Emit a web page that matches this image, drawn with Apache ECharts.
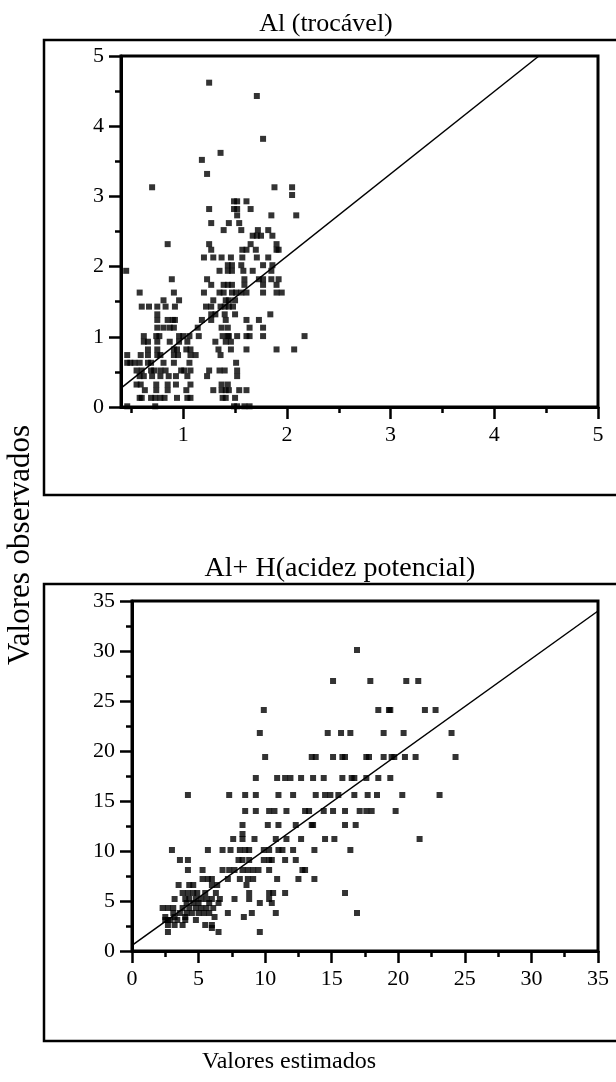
<!DOCTYPE html>
<html>
<head>
<meta charset="utf-8">
<script src="https://cdn.jsdelivr.net/npm/echarts@6/dist/echarts.min.js"></script>
<style>
html,body{margin:0;padding:0;background:#fff;}
#chart{width:616px;height:1082px;}
</style>
</head>
<body>
<div id="chart"></div>
<script>
// ---------- Panel 1: Al (trocável) ----------
const alTitle = 'Al (trocável)';
const alXTicks = [1, 2, 3, 4, 5];
const alXMinor = [0.5, 1.5, 2.5, 3.5, 4.5];
const alLevels = [4.62, 4.43, 3.82, 3.62, 3.52, 3.32, 3.13, 3.02, 2.93, 2.82, 2.73, 2.62, 2.52, 2.44, 2.32, 2.24, 2.13, 2.02, 1.94, 1.82, 1.74, 1.63, 1.52, 1.43, 1.32, 1.24, 1.13, 1.01, 0.93, 0.82, 0.74, 0.63, 0.52, 0.44, 0.32, 0.24, 0.13, 0.01];
const alRows = [
  [1.25],
  [1.71],
  [1.77],
  [1.36],
  [1.18],
  [1.23],
  [0.70, 1.88, 2.05],
  [2.05],
  [1.49, 1.52, 1.61],
  [1.25, 1.49, 1.52, 1.65],
  [1.52, 1.85, 2.09],
  [1.27, 1.44, 1.54],
  [1.39, 1.56, 1.72, 1.82],
  [1.67, 1.71, 1.75, 1.86],
  [0.85, 1.25, 1.65, 1.90],
  [1.27, 1.57, 1.61, 1.70, 1.90, 1.92],
  [1.20, 1.29, 1.37, 1.46, 1.57, 1.71, 1.82],
  [1.43, 1.47, 1.56, 1.77, 1.86],
  [0.45, 1.35, 1.43, 1.47, 1.58, 1.67, 1.85],
  [0.89, 1.23, 1.59, 1.73, 1.77, 1.85, 1.92],
  [1.27, 1.39, 1.43, 1.47, 1.59, 1.77, 1.90],
  [0.58, 0.91, 1.20, 1.35, 1.39, 1.47, 1.51, 1.56, 1.61, 1.77, 1.90, 1.95],
  [0.81, 0.96, 1.29, 1.41, 1.44, 1.50],
  [0.60, 0.67, 0.75, 0.83, 0.92, 1.22, 1.27, 1.36, 1.40, 1.44, 1.48],
  [0.75, 1.27, 1.31, 1.40, 1.50, 1.84],
  [0.75, 0.85, 0.90, 0.92, 1.18, 1.27, 1.41, 1.61, 1.73],
  [0.75, 0.81, 0.87, 0.91, 1.14, 1.37, 1.43, 1.64, 1.77],
  [0.62, 0.74, 0.77, 0.96, 1.00, 1.06, 1.15, 1.38, 1.43, 1.44, 1.52, 1.61, 1.64, 1.77, 2.17],
  [0.62, 0.66, 0.75, 0.87, 0.96, 1.04, 1.31, 1.41, 1.46],
  [0.66, 0.75, 0.91, 0.94, 1.03, 1.07, 1.34, 1.46, 1.61, 1.90, 2.07],
  [0.46, 0.59, 0.66, 0.75, 0.78, 0.91, 0.95, 1.07, 1.12, 1.36],
  [0.46, 0.49, 0.53, 0.58, 0.66, 0.69, 0.81, 0.91, 1.06, 1.51],
  [0.55, 0.60, 0.69, 0.72, 0.78, 0.83, 0.98, 1.01, 1.07, 1.25, 1.35, 1.40, 1.52],
  [0.58, 0.62, 0.70, 0.78, 0.86, 0.93, 1.04, 1.23, 1.52],
  [0.55, 0.59, 0.74, 0.85, 0.93, 1.07, 1.37, 1.43],
  [0.63, 0.74, 0.85, 1.03, 1.29, 1.37, 1.41, 1.44, 1.54, 1.61],
  [0.58, 0.60, 0.69, 0.73, 0.78, 0.82, 0.94, 1.04, 1.07, 1.38, 1.41, 1.50],
  [0.46, 0.73, 1.49, 1.52, 1.59, 1.64]
];
const alFitX = [0.4, 4.43];
const alFitY = [0.27, 5.0];

// ---------- Panel 2: Al+ H (acidez potencial) ----------
const ahTitle = 'Al+ H(acidez potencial)';
const ahLevels = [30.1, 27.0, 24.1, 21.8, 19.4, 17.3, 15.6, 14.0, 12.6, 11.7, 11.2, 10.1, 9.1, 8.1, 7.2, 6.6, 5.8, 5.2, 4.8, 4.3, 3.8, 3.4, 3.1, 2.6, 2.3, 1.9];
const ahRows = [
  [16.9],
  [15.1, 17.9, 20.6, 21.5],
  [9.9, 18.5, 19.3, 19.4, 22.0, 22.8],
  [9.6, 14.7, 15.7, 16.4, 18.9, 20.4, 24.0],
  [10.0, 13.5, 13.8, 15.1, 15.8, 16.0, 17.6, 17.8, 18.9, 19.5, 19.7, 20.5, 21.3, 24.3],
  [9.3, 10.9, 11.5, 11.9, 12.7, 13.6, 14.4, 15.8, 16.5, 16.7, 17.6, 18.5, 19.4],
  [4.2, 7.3, 8.5, 9.3, 11.0, 12.1, 13.8, 14.5, 14.9, 15.5, 16.7, 17.7, 18.4, 20.3, 23.1],
  [8.5, 9.3, 10.3, 10.7, 11.6, 13.0, 13.3, 14.4, 15.1, 16.0, 17.1, 17.6, 18.0, 19.8],
  [8.3, 10.2, 11.0, 12.3, 13.5, 13.6, 16.0, 16.8],
  [8.3],
  [7.6, 8.3, 9.2, 10.8, 11.6, 12.7, 14.5, 15.2, 21.6],
  [3.0, 5.7, 6.8, 7.4, 8.1, 8.5, 8.8, 9.9, 10.3, 11.0, 11.3, 12.1, 13.7, 16.4],
  [3.6, 4.2, 8.0, 8.3, 8.8, 9.9, 10.3, 10.5, 11.5, 12.3],
  [4.2, 5.3, 6.8, 7.3, 7.7, 8.3, 8.7, 9.1, 9.5, 10.3, 12.8, 13.0],
  [5.3, 5.7, 6.0, 7.2, 8.1, 8.7, 9.1, 10.9, 12.5, 13.7],
  [3.5, 4.3, 4.6, 6.0, 6.4, 8.6],
  [3.8, 4.2, 4.6, 4.9, 5.5, 6.3, 8.8, 10.3, 10.6, 11.5, 16.0],
  [3.2, 4.0, 4.3, 4.8, 5.2, 5.6, 6.0, 6.6, 7.7, 8.8, 10.3],
  [4.1, 4.6, 5.0, 5.8, 6.5, 9.6, 10.5],
  [2.3, 2.7, 3.1, 3.8, 4.3, 4.8, 5.2, 5.6, 6.1],
  [3.1, 3.6, 4.1, 4.5, 5.0, 5.4, 5.8, 7.2, 9.0, 10.8, 16.9],
  [2.5, 3.2, 4.0, 6.2, 8.4],
  [2.5, 2.7, 2.9, 3.4, 4.0, 4.8],
  [2.7, 3.2, 3.8, 5.5, 6.0],
  [6.0],
  [2.7, 6.5, 9.6]
];
const ahFitX = [0, 35];
const ahFitY = [0.57, 34.0];

const xAxisTitle = 'Valores estimados';
const yAxisTitle = 'Valores observados';

// ---------- build ----------
function rowsToPoints(levels, rows) {
  const pts = [];
  levels.forEach((y, i) => rows[i].forEach(x => pts.push([x, y])));
  return pts;
}
function zip(xs, ys) { return xs.map((x, i) => [x, ys[i]]); }

const FONT = '"Liberation Serif", "Times New Roman", serif';
const black = '#000';
const tickLabel = { color: black, fontFamily: FONT, fontSize: 22 };

function mainX(grid, extra) {
  return Object.assign({
    gridIndex: grid, type: 'value', position: 'bottom',
    axisLine: { show: true, onZero: false, lineStyle: { color: black, width: 3 } },
    axisTick: { show: true, length: 12, lineStyle: { color: black, width: 2.5 } },
    axisLabel: Object.assign({ margin: 17 }, tickLabel),
    splitLine: { show: false }
  }, extra);
}
function mainY(grid, extra) {
  return Object.assign({
    gridIndex: grid, type: 'value', position: 'left',
    axisLine: { show: true, onZero: false, lineStyle: { color: black, width: 3 } },
    axisTick: { show: true, length: 12, lineStyle: { color: black, width: 2.5 } },
    minorTick: { show: true, splitNumber: 2, length: 6, lineStyle: { color: black, width: 2.5 } },
    axisLabel: Object.assign({ margin: 17 }, tickLabel),
    splitLine: { show: false }, minorSplitLine: { show: false }
  }, extra);
}

const chart = echarts.init(document.getElementById('chart'), null, { renderer: 'canvas' });
chart.setOption({
  backgroundColor: '#fff',
  animation: false,
  grid: [
    { left: 121, top: 56, width: 477, height: 351, show: true, borderColor: black, borderWidth: 3, backgroundColor: 'transparent' },
    { left: 132, top: 601, width: 466, height: 350, show: true, borderColor: black, borderWidth: 3, backgroundColor: 'transparent' }
  ],
  xAxis: [
    mainX(0, { min: 0.4, max: 5,
      axisTick: { show: true, customValues: alXTicks, length: 12, lineStyle: { color: black, width: 2.5 } },
      axisLabel: Object.assign({ margin: 17, customValues: alXTicks }, tickLabel) }),
    { gridIndex: 0, type: 'value', position: 'bottom', min: 0.4, max: 5,
      axisLine: { show: false },
      axisTick: { show: true, customValues: alXMinor, length: 6, lineStyle: { color: black, width: 2.5 } },
      axisLabel: { show: false }, splitLine: { show: false } },
    mainX(1, { min: 0, max: 35, interval: 5,
      minorTick: { show: true, splitNumber: 2, length: 6, lineStyle: { color: black, width: 2.5 } } })
  ],
  yAxis: [
    mainY(0, { min: 0, max: 5, interval: 1 }),
    mainY(1, { min: 0, max: 35, interval: 5 })
  ],
  series: [
    { type: 'scatter', xAxisIndex: 0, yAxisIndex: 0, symbol: 'rect', symbolSize: 6,
      itemStyle: { color: black }, data: rowsToPoints(alLevels, alRows), z: 3 },
    { type: 'line', xAxisIndex: 0, yAxisIndex: 0, symbol: 'none',
      lineStyle: { color: black, width: 1.5 }, data: zip(alFitX, alFitY), z: 4 },
    { type: 'scatter', xAxisIndex: 2, yAxisIndex: 1, symbol: 'rect', symbolSize: 6,
      itemStyle: { color: black }, data: rowsToPoints(ahLevels, ahRows), z: 3 },
    { type: 'line', xAxisIndex: 2, yAxisIndex: 1, symbol: 'none',
      lineStyle: { color: black, width: 1.5 }, data: zip(ahFitX, ahFitY), z: 4 }
  ],
  graphic: [
    { type: 'rect', shape: { x: 44, y: 40, width: 600, height: 455 },
      style: { fill: 'none', stroke: black, lineWidth: 2.5 }, silent: true },
    { type: 'rect', shape: { x: 44, y: 584, width: 600, height: 457 },
      style: { fill: 'none', stroke: black, lineWidth: 2.5 }, silent: true },
    { type: 'text', x: 326, y: 24, style: { text: alTitle, fill: black, font: '26px ' + FONT, textAlign: 'center', textVerticalAlign: 'middle' } },
    { type: 'text', x: 340, y: 569, style: { text: ahTitle, fill: black, font: '28px ' + FONT, textAlign: 'center', textVerticalAlign: 'middle' } },
    { type: 'text', x: 289, y: 1062, style: { text: xAxisTitle, fill: black, font: '24px ' + FONT, textAlign: 'center', textVerticalAlign: 'middle' } },
    { type: 'text', x: 21, y: 545, rotation: Math.PI / 2, style: { text: yAxisTitle, fill: black, font: '31px ' + FONT, textAlign: 'center', textVerticalAlign: 'middle' } }
  ]
});
</script>
</body>
</html>
